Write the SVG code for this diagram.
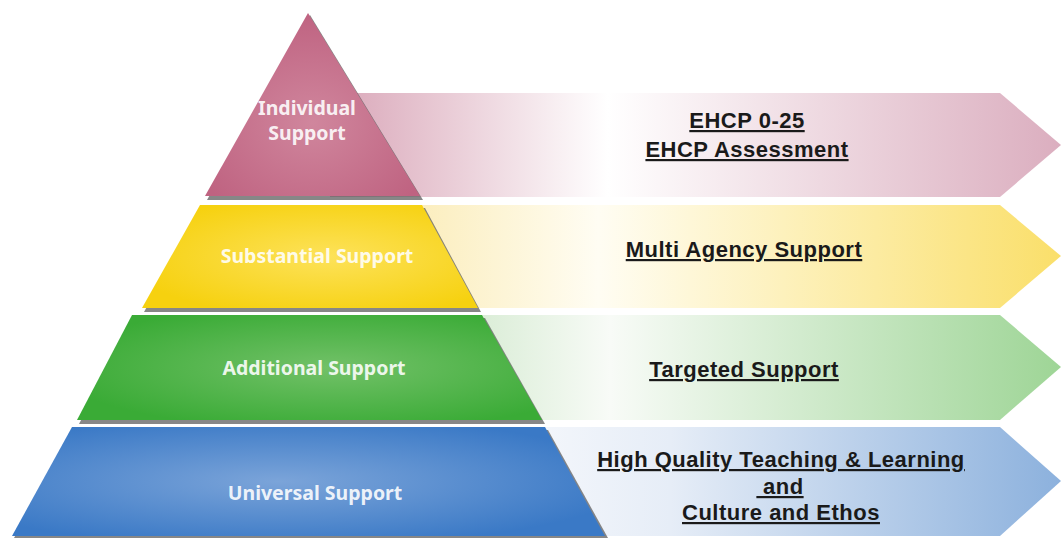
<svg xmlns="http://www.w3.org/2000/svg" width="1061" height="538" viewBox="0 0 1061 538">
<defs>
<linearGradient id="gPinkA" x1="330" y1="0" x2="1061" y2="0" gradientUnits="userSpaceOnUse">
<stop offset="0" stop-color="#d9a6b8"/><stop offset="0.38" stop-color="#ffffff"/><stop offset="1" stop-color="#dbaebf"/></linearGradient>
<linearGradient id="gYelA" x1="400" y1="0" x2="1061" y2="0" gradientUnits="userSpaceOnUse">
<stop offset="0" stop-color="#fbecb8"/><stop offset="0.3" stop-color="#fffdf3"/><stop offset="1" stop-color="#fadf6a"/></linearGradient>
<linearGradient id="gGrnA" x1="460" y1="0" x2="1061" y2="0" gradientUnits="userSpaceOnUse">
<stop offset="0" stop-color="#d6ebd2"/><stop offset="0.25" stop-color="#f8fbf7"/><stop offset="1" stop-color="#9ed596"/></linearGradient>
<linearGradient id="gBluA" x1="540" y1="0" x2="1061" y2="0" gradientUnits="userSpaceOnUse">
<stop offset="0" stop-color="#f3f6fb"/><stop offset="0.25" stop-color="#e6edf7"/><stop offset="1" stop-color="#8cb1dd"/></linearGradient>
<radialGradient id="rPink" cx="0.5" cy="0.6" r="0.6"><stop offset="0" stop-color="#d0869d"/><stop offset="1" stop-color="#bf6381"/></radialGradient>
<radialGradient id="rYel" cx="0.55" cy="0.5" r="0.6"><stop offset="0" stop-color="#fde25a"/><stop offset="1" stop-color="#f6d10f"/></radialGradient>
<radialGradient id="rGrn" cx="0.55" cy="0.5" r="0.6"><stop offset="0" stop-color="#72c168"/><stop offset="1" stop-color="#3aab36"/></radialGradient>
<radialGradient id="rBlu" cx="0.45" cy="0.5" r="0.6"><stop offset="0" stop-color="#7ba4d9"/><stop offset="1" stop-color="#3a79c6"/></radialGradient>
</defs>
<style>
.shadow{fill:#5f5f5f;opacity:0.75}
.lvl{font-family:"Noto Sans","Open Sans",sans-serif;font-weight:700;font-size:19.5px;fill:#ffffff;fill-opacity:0.9;text-anchor:middle}
.lab{font-family:"Liberation Sans",Arial,sans-serif;font-weight:700;font-size:22px;letter-spacing:0.5px;fill:#1a1a1a;text-anchor:middle;text-decoration:underline}
</style>
<rect width="1061" height="538" fill="#ffffff"/>
<g id="connectors">
<polygon points="330,93 1000,93 1061,145 1000,197 330,197" fill="url(#gPinkA)"/>
<polygon points="400,205 1000,205 1061,256 1000,308 400,308" fill="url(#gYelA)"/>
<polygon points="460,315 1000,315 1061,367 1000,420 460,420" fill="url(#gGrnA)"/>
<polygon points="540,427 1000,427 1061,481 1000,536 540,536" fill="url(#gBluA)"/>
</g>
<g id="individual">
<polygon class="shadow" points="310,15 423,200 207,200"/>
<polygon points="308,13 420,196 205,196" fill="url(#rPink)"/>
<text class="lvl" x="307" y="115">Individual</text>
<text class="lvl" x="307" y="140">Support</text>
</g>
<g id="substantial">
<polygon class="shadow" points="202,208 425,208 481,312 144,312"/>
<polygon points="200,205 422,205 478,308 142,308" fill="url(#rYel)"/>
<text class="lvl" x="317" y="263">Substantial Support</text>
</g>
<g id="additional">
<polygon class="shadow" points="134,318 485,318 545,424 79,424"/>
<polygon points="132,315 482,315 542,420 77,420" fill="url(#rGrn)"/>
<text class="lvl" x="314" y="375">Additional Support</text>
</g>
<g id="universal">
<polygon class="shadow" points="74,430 548,430 608,538 14,538"/>
<polygon points="72,427 545,427 605,536 12,536" fill="url(#rBlu)"/>
<text class="lvl" x="315" y="500">Universal Support</text>
</g>
<g id="labels">
<text class="lab" x="747" y="128">EHCP 0-25</text>
<text class="lab" x="747" y="157">EHCP Assessment</text>
<text class="lab" x="744" y="257">Multi Agency Support</text>
<text class="lab" x="744" y="377">Targeted Support</text>
<text class="lab" x="781" y="467">High Quality Teaching &amp; Learning</text>
<text class="lab" x="780" y="494" xml:space="preserve"> and</text>
<text class="lab" x="781" y="520">Culture and Ethos</text>
</g>
</svg>
